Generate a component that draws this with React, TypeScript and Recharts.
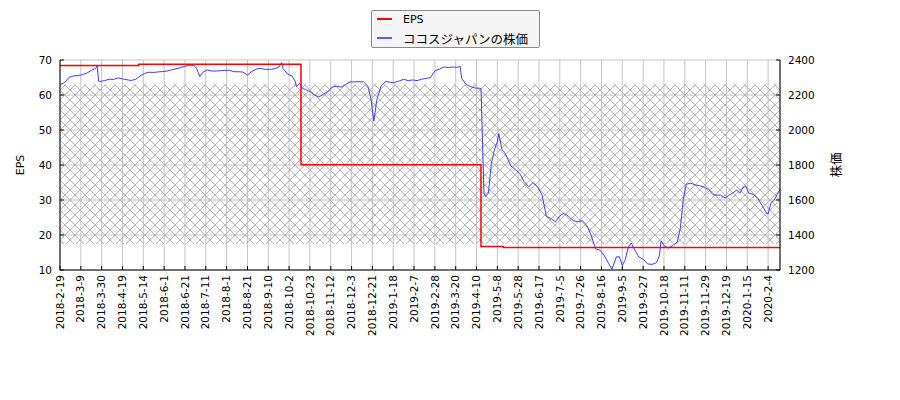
import {
  CartesianGrid,
  ComposedChart,
  Line,
  ReferenceArea,
  XAxis,
  YAxis,
} from "recharts";

// x axis: one tick every 14 trading days
const dateLabels = [
  "2018-2-19", "2018-3-9", "2018-3-30", "2018-4-19", "2018-5-14", "2018-6-1",
  "2018-6-21", "2018-7-11", "2018-8-1", "2018-8-21", "2018-9-10", "2018-10-2",
  "2018-10-23", "2018-11-12", "2018-12-3", "2018-12-21", "2019-1-18", "2019-2-7",
  "2019-2-28", "2019-3-20", "2019-4-10", "2019-5-8", "2019-5-28", "2019-6-17",
  "2019-7-5", "2019-7-26", "2019-8-16", "2019-9-5", "2019-9-27", "2019-10-18",
  "2019-11-11", "2019-11-29", "2019-12-19", "2020-1-15", "2020-2-4",
];
const tickStep = 14;
const lastDay = 484;
const tickDays = dateLabels.map((_, i) => i * tickStep);

// share price (right axis), sampled by trading-day index
const priceDays = [
  0, 3, 6, 9, 12, 15, 18, 21, 24, 25, 26, 27, 30, 33, 36, 39, 42, 45, 48, 51,
  54, 57, 60, 63, 66, 69, 72, 75, 78, 81, 84, 87, 90, 92, 94, 96, 99, 102, 105,
  108, 111, 114, 117, 120, 123, 126, 129, 132, 135, 138, 141, 144, 147, 149, 150,
  153, 156, 158, 159, 161, 163, 165, 168, 171, 174, 177, 180, 183, 186, 189, 192,
  195, 198, 201, 204, 207, 209, 211, 213, 216, 219, 222, 225, 228, 231, 234, 237,
  240, 243, 246, 249, 252, 255, 258, 261, 264, 267, 269, 270, 273, 276, 279, 282,
  283, 285, 286, 288, 290, 292, 294, 295, 297, 299, 301, 303, 306, 309, 312, 315,
  318, 321, 324, 327, 330, 333, 336, 339, 342, 345, 348, 351, 354, 357, 360, 363,
  366, 369, 371, 374, 376, 378, 380, 382, 384, 386, 389, 392, 395, 398, 401, 403,
  404, 406, 409, 412, 415, 417, 419, 421, 424, 427, 430, 433, 436, 439, 441, 444,
  447, 450, 453, 455, 457, 459, 461, 463, 466, 469, 472, 475, 476, 478, 480, 482,
  484,
];
const prices = [
  2261, 2270, 2300, 2309, 2311, 2316, 2325, 2340, 2352, 2366, 2278, 2278, 2282,
  2290, 2289, 2298, 2292, 2287, 2283, 2290, 2310, 2324, 2330, 2329, 2332, 2334,
  2337, 2344, 2350, 2356, 2364, 2370, 2369, 2350, 2305, 2330, 2343, 2337, 2337,
  2339, 2341, 2341, 2333, 2333, 2331, 2314, 2335, 2349, 2352, 2346, 2346, 2350,
  2358, 2385, 2350, 2320, 2308, 2280, 2248, 2267, 2238, 2232, 2220, 2200, 2188,
  2204, 2220, 2245, 2250, 2245, 2260, 2275, 2275, 2276, 2275, 2250, 2180, 2050,
  2175, 2255, 2278, 2272, 2272, 2280, 2290, 2282, 2286, 2282, 2290, 2295, 2299,
  2338, 2348, 2360, 2357, 2360, 2358, 2363, 2295, 2260, 2248, 2240, 2238, 2238,
  1640, 1620, 1640, 1810, 1886, 1933, 1980, 1890, 1870, 1835, 1795, 1775, 1752,
  1705, 1675, 1700, 1676, 1630, 1505, 1495, 1475, 1510, 1525, 1505, 1482, 1476,
  1482, 1457, 1400, 1320, 1314, 1280, 1235, 1204, 1275, 1276, 1226, 1260, 1330,
  1355, 1320, 1275, 1262, 1235, 1232, 1242, 1285, 1365, 1340, 1325, 1340, 1360,
  1440, 1604, 1690, 1696, 1686, 1682, 1673, 1660, 1630, 1628, 1628, 1612, 1628,
  1645, 1657, 1638, 1670, 1678, 1640, 1632, 1610, 1568, 1525, 1520, 1585, 1598,
  1630, 1660,
];

// EPS (left axis), value holds until the next change
const epsDays = [0, 53, 162, 283, 298, lastDay];
const epsValues = [68.4, 68.8, 40.1, 16.7, 16.4, 16.4];

const epsTicks = [10, 20, 30, 40, 50, 60, 70];
const epsMinorTicks = [15, 25, 35, 45, 55, 65];
const priceTicks = [1200, 1400, 1600, 1800, 2000, 2200, 2400];
const priceMinorTicks = [1300, 1500, 1700, 1900, 2100, 2300];

// hatched band, in EPS units
const bandLow = 17.4;
const bandHigh = 63;

const priceData = priceDays.map((day, i) => ({ day, price: prices[i] }));
const epsData = epsDays.map((day, i) => ({ day, eps: epsValues[i] }));

const latin = "'DejaVu Sans', sans-serif";
const cjk = "'DejaVu Sans', 'Noto Sans CJK JP', sans-serif";
const tickFont = { fontSize: 10.5, fill: "#000", fontFamily: latin };

function DateTick(props: any) {
  const { x, y, payload } = props;
  const label = dateLabels[Math.round(payload.value / tickStep)];
  return (
    <text
      x={x}
      y={y}
      transform={`rotate(-90, ${x}, ${y})`}
      textAnchor="end"
      dy="0.35em"
      fontSize={10.5}
      fontFamily={latin}
      fill="#000"
    >
      {label}
    </text>
  );
}

function AxisTitle({ viewBox, text, dx }: any) {
  const cx = viewBox.x + dx;
  const cy = viewBox.y + viewBox.height / 2;
  return (
    <text
      x={cx}
      y={cy}
      transform={`rotate(-90, ${cx}, ${cy})`}
      textAnchor="middle"
      dominantBaseline="central"
      fontSize={text === "EPS" ? 11 : 12.5}
      fontFamily={cjk}
      fill="#000"
    >
      {text}
    </text>
  );
}

function LegendBox() {
  const row = (top: number, color: string, label: string, font: string, size: number) => (
    <div
      style={{
        position: "absolute",
        left: 5,
        top: top - 8,
        height: 16,
        display: "flex",
        alignItems: "center",
        whiteSpace: "nowrap",
      }}
    >
      <span style={{ width: 15, height: 2, background: color, display: "inline-block" }} />
      <span style={{ marginLeft: 11, fontFamily: font, fontSize: size, color: "#000" }}>
        {label}
      </span>
    </div>
  );
  return (
    <div
      style={{
        position: "absolute",
        left: 371,
        top: 10,
        width: 169,
        height: 38,
        boxSizing: "border-box",
        border: "1px solid #8a8a8a",
        borderRadius: 2,
        background: "#f4f4f4",
      }}
    >
      {row(8, "#ff0000", "EPS", latin, 11)}
      {row(27, "#5a5aff", "ココスジャパンの株価", cjk, 12.5)}
    </div>
  );
}

export default function App() {
  return (
    <div style={{ position: "absolute", left: 0, top: 0, width: 900, height: 400, background: "#fff" }}>
      <ComposedChart width={900} height={400} margin={{ top: 60, right: 0, bottom: 0, left: 0 }}>
        <defs>
          <pattern id="hatch" width="10" height="10" patternUnits="userSpaceOnUse">
            <path
              d="M0,0 L10,10 M10,0 L0,10"
              stroke="#b4b4b4"
              strokeWidth={1}
              shapeRendering="crispEdges"
            />
          </pattern>
        </defs>
        <XAxis
          dataKey="day"
          type="number"
          domain={[0, lastDay]}
          ticks={tickDays}
          interval={0}
          height={130}
          tickSize={-4}
          tickMargin={9}
          tick={<DateTick />}
          axisLine={{ stroke: "#000" }}
          tickLine={{ stroke: "#000" }}
        />
        <YAxis
          yAxisId="epsMinor"
          orientation="left"
          width={0}
          domain={[10, 70]}
          ticks={epsMinorTicks}
          interval={0}
          tick={false}
          axisLine={false}
          tickSize={-2}
          tickLine={{ stroke: "#000" }}
        />
        <YAxis
          yAxisId="eps"
          orientation="left"
          width={60}
          domain={[10, 70]}
          ticks={epsTicks}
          interval={0}
          tickSize={-4}
          tickMargin={12}
          tick={tickFont}
          axisLine={{ stroke: "#000" }}
          tickLine={{ stroke: "#000" }}
          label={{ content: (p: any) => <AxisTitle {...p} text="EPS" dx={20} /> }}
        />
        <YAxis
          yAxisId="priceMinor"
          orientation="right"
          width={0}
          domain={[1200, 2400]}
          ticks={priceMinorTicks}
          interval={0}
          tick={false}
          axisLine={false}
          tickSize={-2}
          tickLine={{ stroke: "#000" }}
        />
        <YAxis
          yAxisId="price"
          orientation="right"
          width={120}
          domain={[1200, 2400]}
          ticks={priceTicks}
          interval={0}
          tickSize={-4}
          tickMargin={12}
          tick={tickFont}
          axisLine={{ stroke: "#000" }}
          tickLine={{ stroke: "#000" }}
          label={{ content: (p: any) => <AxisTitle {...p} text="株価" dx={56} /> }}
        />
        <ReferenceArea
          yAxisId="eps"
          y1={bandLow}
          y2={bandHigh}
          fill="url(#hatch)"
          fillOpacity={1}
          stroke="none"
        />
        <CartesianGrid yAxisId="eps" stroke="#c4c4c4" strokeWidth={1} />
        <Line
          data={priceData}
          dataKey="price"
          yAxisId="price"
          type="linear"
          stroke="#3c3cff"
          strokeWidth={1}
          dot={false}
          isAnimationActive={false}
        />
        <Line
          data={epsData}
          dataKey="eps"
          yAxisId="eps"
          type="stepAfter"
          stroke="#ff0000"
          strokeWidth={1.5}
          dot={false}
          isAnimationActive={false}
        />
      </ComposedChart>
      <LegendBox />
    </div>
  );
}
